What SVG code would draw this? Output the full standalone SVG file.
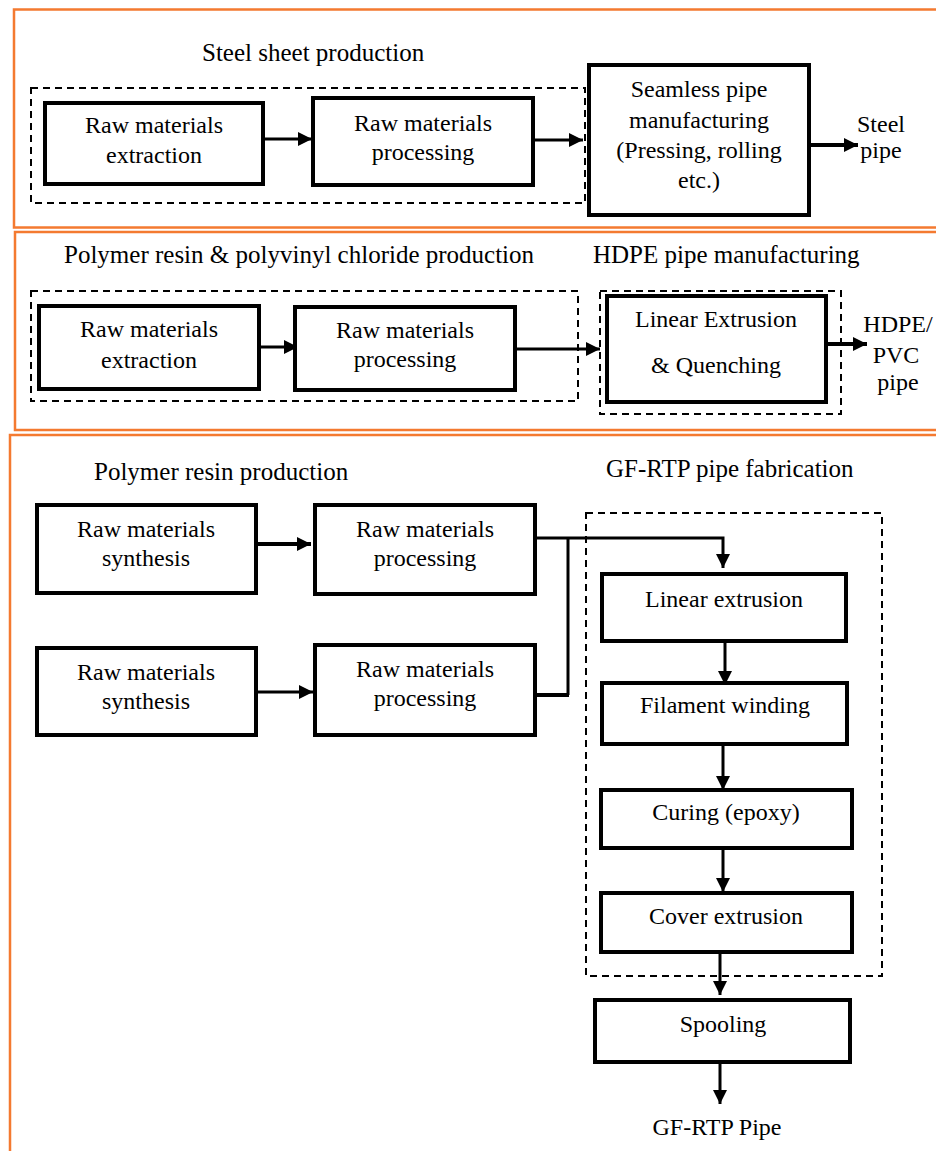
<svg xmlns="http://www.w3.org/2000/svg" width="936" height="1151" viewBox="0 0 936 1151">
<defs>
<style>
.sec{fill:none;stroke:#F47A30;stroke-width:2.5}
.dash{fill:none;stroke:#000;stroke-width:2;stroke-dasharray:7 5}
.box{fill:#fff;stroke:#000;stroke-width:4}
.t{font-family:"Liberation Serif","Times New Roman",serif;font-size:24px;fill:#000;text-anchor:middle}
.h{font-family:"Liberation Serif","Times New Roman",serif;font-size:25px;fill:#000}
.c{fill:none;stroke:#000;stroke-width:3}
.c4{fill:none;stroke:#000;stroke-width:4}
</style>
<marker id="ah" markerUnits="userSpaceOnUse" markerWidth="14" markerHeight="14" refX="14" refY="7" orient="auto">
<path d="M0,0 L14,7 L0,14 z" fill="#000"/>
</marker>
</defs>
<rect width="936" height="1151" fill="#fff"/>

<g id="sections">
<rect class="sec" x="14" y="9.5" width="930" height="218"/>
<rect class="sec" x="15" y="232" width="930" height="198"/>
<rect class="sec" x="10" y="435" width="935" height="730"/>
</g>

<g id="groups">
<rect class="dash" x="31" y="88" width="554" height="115"/>
<rect class="dash" x="31" y="291" width="547" height="110"/>
<rect class="dash" x="600" y="291" width="241" height="123"/>
<rect class="dash" x="586" y="513" width="296" height="463"/>
</g>

<g id="titles">
<text class="h" x="202" y="61">Steel sheet production</text>
<text class="h" x="64" y="263">Polymer resin &amp; polyvinyl chloride production</text>
<text class="h" x="593" y="263">HDPE pipe manufacturing</text>
<text class="h" x="94" y="480">Polymer resin production</text>
<text class="h" x="606" y="477">GF-RTP pipe fabrication</text>
</g>

<g id="connectors">
<line class="c" x1="263" y1="139" x2="312" y2="139" marker-end="url(#ah)"/>
<line class="c" x1="533" y1="140" x2="583" y2="140" marker-end="url(#ah)"/>
<line class="c4" x1="809" y1="145" x2="858" y2="145" marker-end="url(#ah)"/>
<line class="c" x1="259" y1="347" x2="298" y2="347" marker-end="url(#ah)"/>
<line class="c" x1="515" y1="349" x2="600" y2="349" marker-end="url(#ah)"/>
<line class="c4" x1="826" y1="344" x2="867" y2="344" marker-end="url(#ah)"/>
<line class="c4" x1="256" y1="544" x2="311" y2="544" marker-end="url(#ah)"/>
<line class="c" x1="256" y1="692" x2="313" y2="692" marker-end="url(#ah)"/>
<path class="c" d="M535,538 H723 V568" marker-end="url(#ah)"/>
<path class="c" d="M568,538 V695"/>
<path class="c4" d="M535,695 H569"/>
<line class="c" x1="725" y1="641" x2="725" y2="685" marker-end="url(#ah)"/>
<line class="c" x1="723" y1="744" x2="723" y2="790" marker-end="url(#ah)"/>
<line class="c" x1="723" y1="848" x2="723" y2="892" marker-end="url(#ah)"/>
<line class="c" x1="720" y1="952" x2="720" y2="995" marker-end="url(#ah)"/>
<line class="c" x1="720" y1="1062" x2="720" y2="1104" marker-end="url(#ah)"/>
</g>

<g id="n1"><rect class="box" x="45" y="103" width="218" height="81"/>
<text class="t" x="154" y="133">Raw materials</text><text class="t" x="154" y="163">extraction</text></g>
<g id="n2"><rect class="box" x="313" y="98" width="220" height="87"/>
<text class="t" x="423" y="131">Raw materials</text><text class="t" x="423" y="160">processing</text></g>
<g id="n3"><rect class="box" x="589" y="65" width="220" height="150"/>
<text class="t" x="699" y="97">Seamless pipe</text><text class="t" x="699" y="128">manufacturing</text>
<text class="t" x="699" y="158">(Pressing, rolling</text><text class="t" x="699" y="188">etc.)</text></g>
<g id="out1"><text class="t" x="881" y="132">Steel</text><text class="t" x="881" y="158">pipe</text></g>

<g id="n4"><rect class="box" x="39" y="306" width="220" height="83"/>
<text class="t" x="149" y="337">Raw materials</text><text class="t" x="149" y="368">extraction</text></g>
<g id="n5"><rect class="box" x="295" y="307" width="220" height="83"/>
<text class="t" x="405" y="338">Raw materials</text><text class="t" x="405" y="367">processing</text></g>
<g id="n6"><rect class="box" x="607" y="296" width="219" height="106" stroke-width="5"/>
<text class="t" x="716" y="327">Linear Extrusion</text><text class="t" x="716" y="373">&amp; Quenching</text></g>
<g id="out2"><text class="t" x="898" y="332">HDPE/</text><text class="t" x="896" y="363">PVC</text><text class="t" x="898" y="390">pipe</text></g>

<g id="n7"><rect class="box" x="37" y="505" width="219" height="88"/>
<text class="t" x="146" y="537">Raw materials</text><text class="t" x="146" y="566">synthesis</text></g>
<g id="n8"><rect class="box" x="315" y="505" width="220" height="89"/>
<text class="t" x="425" y="537">Raw materials</text><text class="t" x="425" y="566">processing</text></g>
<g id="n9"><rect class="box" x="37" y="648" width="219" height="87"/>
<text class="t" x="146" y="680">Raw materials</text><text class="t" x="146" y="709">synthesis</text></g>
<g id="n10"><rect class="box" x="315" y="645" width="220" height="90"/>
<text class="t" x="425" y="677">Raw materials</text><text class="t" x="425" y="706">processing</text></g>
<g id="n11"><rect class="box" x="602" y="574" width="244" height="67"/>
<text class="t" x="724" y="607">Linear extrusion</text></g>
<g id="n12"><rect class="box" x="602" y="683" width="245" height="61"/>
<text class="t" x="725" y="713">Filament winding</text></g>
<g id="n13"><rect class="box" x="601" y="790" width="251" height="58"/>
<text class="t" x="726" y="820">Curing (epoxy)</text></g>
<g id="n14"><rect class="box" x="601" y="893" width="251" height="59"/>
<text class="t" x="726" y="924">Cover extrusion</text></g>
<g id="n15"><rect class="box" x="595" y="1000" width="255" height="62"/>
<text class="t" x="723" y="1032">Spooling</text></g>
<g id="out3"><text class="t" x="717" y="1135">GF-RTP Pipe</text></g>
</svg>
